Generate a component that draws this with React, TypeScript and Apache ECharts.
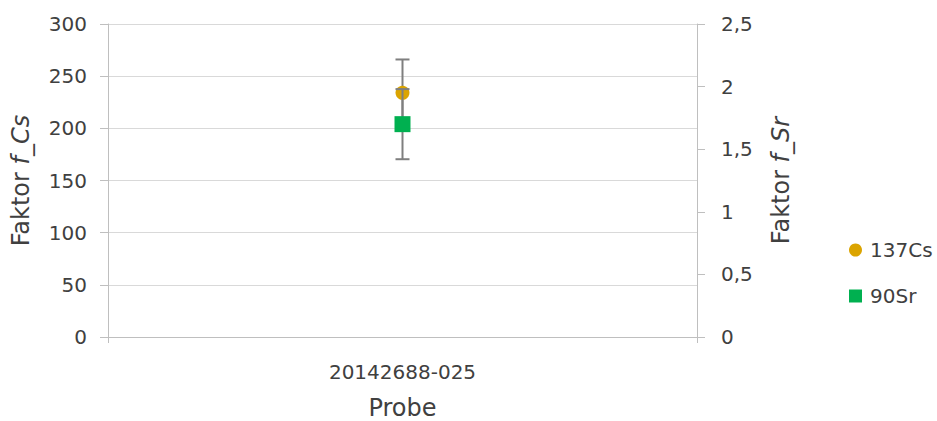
import React, { useEffect, useRef } from "react";
import * as echarts from "echarts";

// Sample and measured factors
const categories = ["20142688-025"];
const csValues = [234];
const csErrors = [32];
const srValues = [1.7];
const srErrors = [0.28];

const leftTicks = { min: 0, max: 300, interval: 50 };
const rightTicks = { min: 0, max: 2.5, interval: 0.5 };

const FONT = "DejaVu Sans";
const TEXT = "#404040";
const CS_COLOR = "#DBA400";
const SR_COLOR = "#00B050";
const ERR_COLOR = "#7F7F7F";

function errorBarSeries(name: string, values: number[], errors: number[], yAxisIndex: number, z: number) {
  return {
    type: "custom",
    name,
    yAxisIndex,
    z,
    silent: true,
    data: values.map((v, i) => [i, v - errors[i], v + errors[i]]),
    renderItem: (params: any, api: any) => {
      const x = api.value(0);
      const lo = api.coord([x, api.value(1)]);
      const hi = api.coord([x, api.value(2)]);
      const half = 7;
      const style = { stroke: ERR_COLOR, lineWidth: 2 };
      return {
        type: "group",
        children: [
          { type: "line", shape: { x1: lo[0], y1: lo[1], x2: hi[0], y2: hi[1] }, style },
          { type: "line", shape: { x1: hi[0] - half, y1: hi[1], x2: hi[0] + half, y2: hi[1] }, style },
          { type: "line", shape: { x1: lo[0] - half, y1: lo[1], x2: lo[0] + half, y2: lo[1] }, style },
        ],
      };
    },
  };
}

export default function App() {
  const ref = useRef<HTMLDivElement>(null);

  useEffect(() => {
    if (!ref.current) return;
    const chart = echarts.init(ref.current, undefined, { renderer: "svg" });
    chart.setOption({
      animation: false,
      backgroundColor: "#ffffff",
      textStyle: { fontFamily: FONT, color: TEXT },
      grid: {
        left: 108,
        right: 240,
        top: 24,
        bottom: 84,
        containLabel: false,
        outerBoundsMode: "none",
      },
      legend: {
        orient: "vertical",
        left: 849,
        top: 240,
        padding: 0,
        itemWidth: 13,
        itemHeight: 13,
        itemGap: 26,
        data: [
          { name: "137Cs", icon: "circle" },
          { name: "90Sr", icon: "rect" },
        ],
        textStyle: { fontFamily: FONT, fontSize: 20, color: TEXT, padding: [0, 0, 0, 3] },
      },
      xAxis: {
        type: "category",
        data: categories,
        boundaryGap: true,
        name: "Probe",
        nameLocation: "middle",
        nameGap: 59,
        nameTextStyle: { fontFamily: FONT, fontSize: 24, color: TEXT },
        axisLine: { lineStyle: { color: "#BFBFBF", width: 1 } },
        axisTick: { show: true, length: 6, lineStyle: { color: "#BFBFBF" } },
        axisLabel: { fontFamily: FONT, fontSize: 20, color: TEXT, margin: 25 },
        splitLine: { show: false },
      },
      yAxis: [
        {
          type: "value",
          ...leftTicks,
          position: "left",
          name: "Faktor {i|f_Cs}",
          nameLocation: "middle",
          nameGap: 75,
          nameTextStyle: {
            fontFamily: FONT,
            fontSize: 24,
            color: TEXT,
            rich: { i: { fontFamily: FONT, fontSize: 24, color: TEXT, fontStyle: "italic" } },
          },
          axisLine: { show: true, lineStyle: { color: "#BFBFBF", width: 1 } },
          axisTick: { show: true, length: 8, lineStyle: { color: "#BFBFBF" } },
          axisLabel: { fontFamily: FONT, fontSize: 20, color: TEXT, margin: 21 },
          splitLine: { show: true, lineStyle: { color: "#D9D9D9", width: 1 } },
        },
        {
          type: "value",
          ...rightTicks,
          position: "right",
          name: "Faktor {i|f_Sr}",
          nameLocation: "middle",
          nameGap: 72,
          nameRotate: 90,
          nameTextStyle: {
            fontFamily: FONT,
            fontSize: 24,
            color: TEXT,
            rich: { i: { fontFamily: FONT, fontSize: 24, color: TEXT, fontStyle: "italic" } },
          },
          axisLine: { show: true, lineStyle: { color: "#BFBFBF", width: 1 } },
          axisTick: { show: true, length: 8, lineStyle: { color: "#BFBFBF" } },
          axisLabel: {
            fontFamily: FONT,
            fontSize: 20,
            color: TEXT,
            margin: 24,
            formatter: (v: number) => String(v).replace(".", ","),
          },
          splitLine: { show: false },
        },
      ],
      series: [
        errorBarSeries("137Cs-err", csValues, csErrors, 0, 2),
        {
          type: "scatter",
          name: "137Cs",
          yAxisIndex: 0,
          z: 3,
          symbol: "circle",
          symbolSize: 14,
          itemStyle: { color: CS_COLOR, opacity: 1 },
          data: csValues.map((v, i) => [i, v]),
        },
        errorBarSeries("90Sr-err", srValues, srErrors, 1, 4),
        {
          type: "scatter",
          name: "90Sr",
          yAxisIndex: 1,
          z: 5,
          symbol: "rect",
          symbolSize: 16,
          itemStyle: { color: SR_COLOR, opacity: 1 },
          data: srValues.map((v, i) => [i, v]),
        },
      ],
    });
    return () => chart.dispose();
  }, []);

  return (
    <div
      ref={ref}
      style={{ position: "fixed", left: 0, top: 0, width: 937, height: 421, background: "#fff" }}
    />
  );
}
